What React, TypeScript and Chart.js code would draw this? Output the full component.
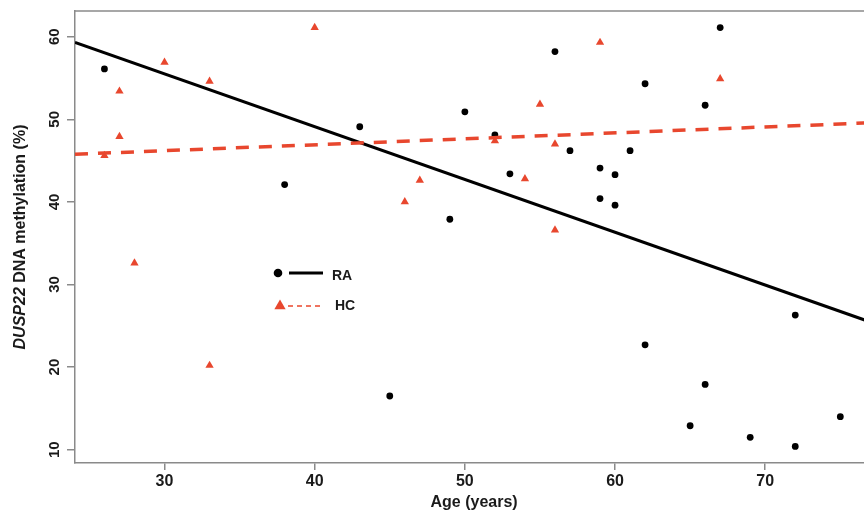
import React, { useEffect, useRef } from 'react';
import { Chart, registerables } from 'chart.js';

Chart.register(...registerables);

// ---- data ----
const raAge = [26, 38, 43, 45, 49, 50, 52, 53, 56, 57, 59, 59, 60, 60, 61, 62, 62, 65, 66, 66, 67, 69, 72, 72, 75];
const raMeth = [56.1, 42.1, 49.1, 16.5, 37.9, 50.9, 48.1, 43.4, 58.2, 46.2, 44.1, 40.4, 43.3, 39.6, 46.2, 54.3, 22.7, 12.9, 51.7, 17.9, 61.1, 11.5, 26.3, 10.4, 14.0];

const hcAge = [26, 27, 27, 28, 30, 33, 33, 40, 46, 47, 52, 54, 55, 56, 56, 59, 67];
const hcMeth = [45.6, 53.4, 47.9, 32.6, 56.9, 54.6, 20.2, 61.1, 40.0, 42.6, 47.4, 42.8, 51.8, 47.0, 36.6, 59.3, 54.9];

// regression lines (end points)
const raFitAge = [24.04, 77.19];
const raFitMeth = [59.32, 25.34];
const hcFitAge = [24.04, 77.19];
const hcFitMeth = [45.77, 49.59];

const xTicks = [30, 40, 50, 60, 70];
const yTicks = [10, 20, 30, 40, 50, 60];
const seriesLabels = ['RA', 'HC'];
const xTitle = 'Age (years)';
const yTitleItalic = 'DUSP22';
const yTitleRest = ' DNA methylation (%)';

// ---- styles ----
const FONT = '"Liberation Sans", Arial, Helvetica, sans-serif';
const RED = '#e8472e';
const RED_LIGHT = '#ef7460';
const AXIS = '#8a8a8a';
const TEXT = '#1a1a1a';

const zip = (xs: number[], ys: number[]) => xs.map((x, i) => ({ x, y: ys[i] }));

const decorPlugin = {
  id: 'decor',
  afterDraw(chart: any) {
    const { ctx, chartArea: ca, scales } = chart;
    const ys = scales.y;
    ctx.save();

    // top border of the box
    ctx.strokeStyle = AXIS;
    ctx.lineWidth = 1.5;
    ctx.beginPath();
    ctx.moveTo(ca.left, ca.top);
    ctx.lineTo(ca.right, ca.top);
    ctx.stroke();

    // rotated y tick labels (R style)
    ctx.fillStyle = TEXT;
    ctx.font = `bold 15px ${FONT}`;
    ctx.textAlign = 'center';
    ctx.textBaseline = 'alphabetic';
    ys.ticks.forEach((t: any) => {
      const py = ys.getPixelForValue(t.value);
      ctx.save();
      ctx.translate(ca.left - 16, py);
      ctx.rotate(-Math.PI / 2);
      ctx.fillText(String(t.value), 0, 0);
      ctx.restore();
    });

    // y title with italic gene name
    const fItalic = `italic bold 16px ${FONT}`;
    const fBold = `bold 16px ${FONT}`;
    ctx.font = fItalic;
    const w1 = ctx.measureText(yTitleItalic).width;
    ctx.font = fBold;
    const w2 = ctx.measureText(yTitleRest).width;
    const total = w1 + w2;
    ctx.save();
    ctx.translate(25, (ca.top + ca.bottom) / 2);
    ctx.rotate(-Math.PI / 2);
    ctx.textAlign = 'left';
    ctx.font = fItalic;
    ctx.fillText(yTitleItalic, -total / 2, 0);
    ctx.font = fBold;
    ctx.fillText(yTitleRest, -total / 2 + w1, 0);
    ctx.restore();

    // legend
    const ds = chart.data.datasets;
    ctx.font = `bold 14px ${FONT}`;
    ctx.textAlign = 'left';
    ctx.textBaseline = 'middle';
    // RA
    ctx.fillStyle = '#000';
    ctx.beginPath();
    ctx.arc(278, 273, 4.3, 0, Math.PI * 2);
    ctx.fill();
    ctx.strokeStyle = '#000';
    ctx.lineWidth = 3;
    ctx.beginPath();
    ctx.moveTo(289, 273);
    ctx.lineTo(323, 273);
    ctx.stroke();
    ctx.fillStyle = TEXT;
    ctx.fillText(ds[0].label, 332, 276);
    // HC
    ctx.fillStyle = RED;
    const r = 6.5;
    const cx = 280, cy = 306;
    ctx.beginPath();
    ctx.moveTo(cx, cy - r);
    ctx.lineTo(cx + r * Math.sin((2 * Math.PI) / 3), cy - r * Math.cos((2 * Math.PI) / 3));
    ctx.lineTo(cx + r * Math.sin((4 * Math.PI) / 3), cy - r * Math.cos((4 * Math.PI) / 3));
    ctx.closePath();
    ctx.fill();
    ctx.strokeStyle = RED_LIGHT;
    ctx.lineWidth = 2;
    ctx.setLineDash([5, 4]);
    ctx.beginPath();
    ctx.moveTo(288, 306);
    ctx.lineTo(322, 306);
    ctx.stroke();
    ctx.setLineDash([]);
    ctx.fillStyle = TEXT;
    ctx.fillText(ds[1].label, 335, 306);

    ctx.restore();
  },
};

export default function App() {
  const ref = useRef<HTMLCanvasElement | null>(null);

  useEffect(() => {
    if (!ref.current) return;
    const chart = new Chart(ref.current, {
      type: 'scatter',
      data: {
        datasets: [
          {
            label: seriesLabels[0],
            data: zip(raAge, raMeth),
            pointStyle: 'circle',
            pointRadius: 3.4,
            pointBorderWidth: 0,
            backgroundColor: '#000',
            borderColor: '#000',
            order: 2,
          },
          {
            label: seriesLabels[1],
            data: zip(hcAge, hcMeth),
            pointStyle: 'triangle',
            pointRadius: 4.8,
            pointBorderWidth: 0,
            backgroundColor: RED,
            borderColor: RED,
            order: 2,
          },
          {
            label: 'RA fit',
            data: zip(raFitAge, raFitMeth),
            showLine: true,
            pointRadius: 0,
            borderColor: '#000',
            borderWidth: 3,
            order: 1,
          },
          {
            label: 'HC fit',
            data: zip(hcFitAge, hcFitMeth),
            showLine: true,
            pointRadius: 0,
            borderColor: RED,
            borderWidth: 3.5,
            borderDash: [13, 10],
            order: 0,
          },
        ],
      },
      options: {
        animation: false,
        responsive: false,
        maintainAspectRatio: false,
        devicePixelRatio: 1,
        layout: { padding: { top: 11, right: 0, left: 0, bottom: 0 } },
        plugins: {
          legend: { display: false },
          tooltip: { enabled: false },
        },
        scales: {
          x: {
            type: 'linear',
            min: 24.04,
            max: 77.19,
            afterBuildTicks: (s: any) => {
              s.ticks = xTicks.map((v) => ({ value: v }));
            },
            afterFit: (s: any) => {
              s.height = 51;
            },
            grid: {
              drawOnChartArea: false,
              drawTicks: true,
              tickLength: 7,
              color: AXIS,
              lineWidth: 1.5,
            },
            border: { display: true, color: AXIS, width: 1.5 },
            ticks: {
              padding: 2,
              color: TEXT,
              font: { family: FONT, size: 16, weight: 'bold' },
            },
            title: {
              display: true,
              text: xTitle,
              color: TEXT,
              font: { family: FONT, size: 16, weight: 'bold' },
              padding: { top: 0, bottom: 2 },
            },
          },
          y: {
            type: 'linear',
            min: 8.39,
            max: 63.11,
            afterBuildTicks: (s: any) => {
              s.ticks = yTicks.map((v) => ({ value: v }));
            },
            afterFit: (s: any) => {
              s.width = 75;
            },
            grid: {
              drawOnChartArea: false,
              drawTicks: true,
              tickLength: 8,
              color: AXIS,
              lineWidth: 1.5,
            },
            border: { display: true, color: AXIS, width: 1.5 },
            ticks: { display: false },
          },
        },
      },
      plugins: [decorPlugin],
    } as any);
    return () => chart.destroy();
  }, []);

  return (
    <div
      style={{
        position: 'absolute',
        left: 0,
        top: 0,
        width: 864,
        height: 514,
        overflow: 'hidden',
        background: '#fff',
      }}
    >
      <canvas ref={ref} width={878} height={514} style={{ display: 'block', width: 878, height: 514 }} />
    </div>
  );
}
